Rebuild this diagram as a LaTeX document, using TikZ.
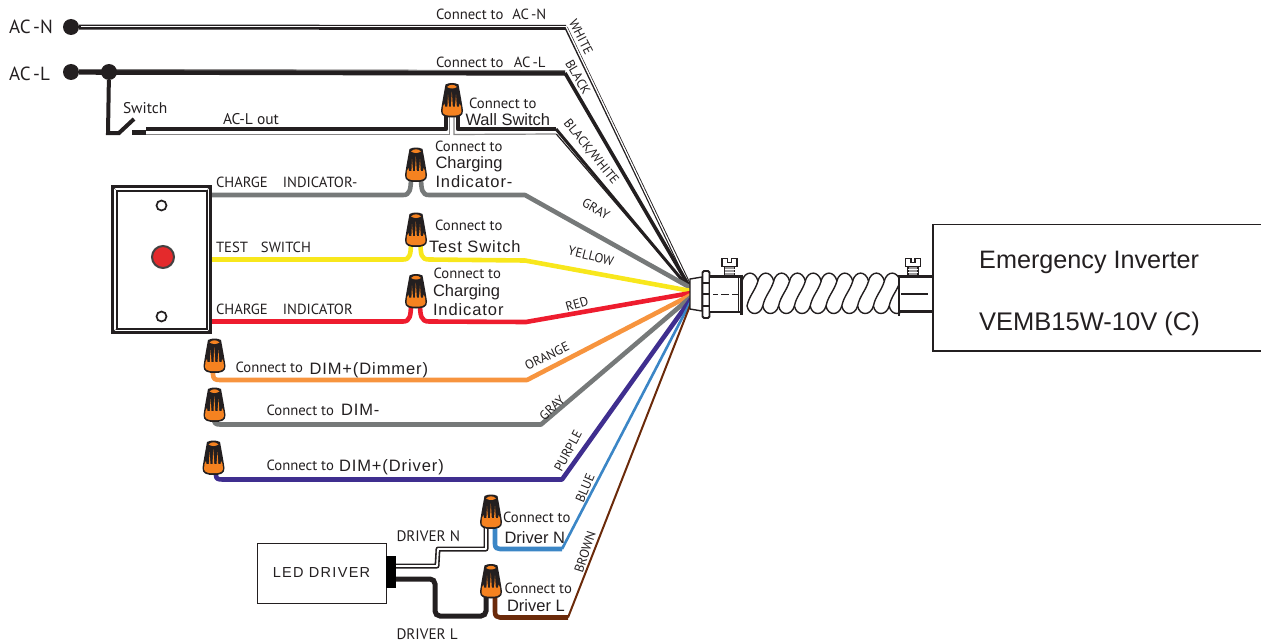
\documentclass[tikz,border=0pt]{standalone}
\usepackage{fontspec}
\setmainfont{PT Sans}
\newfontfamily\arialf{Liberation Sans}
\newfontfamily\arialw[LetterSpace=5.5]{Liberation Sans}
\newfontfamily\arialled[LetterSpace=9]{Liberation Sans}
\usetikzlibrary{calc}
\definecolor{ink}{HTML}{231F20}
\definecolor{nutor}{HTML}{F58220}
\definecolor{wgray}{HTML}{767979}
\definecolor{wyellow}{HTML}{F8E71C}
\definecolor{wred}{HTML}{EE1C2E}
\definecolor{lampred}{HTML}{E42A2C}
\definecolor{worange}{HTML}{F7943E}
\definecolor{wpurple}{HTML}{3F2E8F}
\definecolor{wblue}{HTML}{3B86C6}
\definecolor{wbrown}{HTML}{6B2A0A}
\tikzset{
  x=1pt,y=-1pt,
  wire/.style={line width=4.6pt,line join=round,line cap=butt},
  txt/.style={anchor=base west,inner sep=0pt,outer sep=0pt,text=ink,font=\fontsize{14.7}{14.7}\selectfont},
  big/.style={anchor=base west,inner sep=0pt,outer sep=0pt,text=ink,font=\arialf\fontsize{16.5}{16.5}\selectfont},
  bigw/.style={anchor=base west,inner sep=0pt,outer sep=0pt,text=ink,font=\arialw\fontsize{16.5}{16.5}\selectfont},
  lab/.style={anchor=center,inner sep=0pt,outer sep=0pt,text=ink,font=\fontsize{13}{13}\selectfont},
  dot/.style={circle,fill=ink,inner sep=0pt,minimum size=16pt},
  nut/.pic={
    \path[fill=ink] (-6.5,-33) .. controls (-3,-35) and (3,-35) .. (6.5,-33)
      .. controls (8,-25) and (10,-14) .. (11,-7)
      .. controls (11.5,-1) and (6,0) .. (0,0)
      .. controls (-6,0) and (-11.5,-1) .. (-11,-7)
      .. controls (-10,-14) and (-8,-25) .. (-6.5,-33) -- cycle;
    % orange base with fine tapered ribs
    \path[fill=nutor] (-9,-11) -- (-7.6,-14) -- (-7,-11) -- (-4.6,-11) -- (-4,-23) -- (-3,-11) -- (-1,-11) -- (-0.2,-26) -- (0.8,-11) -- (3,-11) -- (4,-23) -- (4.8,-11) -- (7,-11) -- (7.6,-14) -- (9,-11) -- (9.5,-6)
      .. controls (9,-2) and (4,-1.8) .. (0,-1.8)
      .. controls (-4,-1.8) and (-9,-2) .. (-9.5,-6) -- cycle;
    \path[fill=nutor] (-5,-30.5) .. controls (-2,-33.5) and (2,-33.5) .. (5,-30.5) .. controls (2,-28.5) and (-2,-28.5) .. (-5,-30.5) -- cycle;
  },
  screw/.pic={
    \path[draw=ink,line width=1.1pt,fill=ink!45] (-5,-10) rectangle (5,0);
    \draw[white,line width=.8pt] (-5,-6.5) -- (5,-6.5) (-5,-3.5) -- (5,-3.5);
    \path[draw=ink,line width=1.1pt,fill=white] (-7.5,-17.5) -- (-2,-17.5) -- (-2,-13.5) -- (2,-13.5) -- (2,-17.5) -- (7.5,-17.5) -- (7.5,-9.5) -- (-7.5,-9.5) -- cycle;
  }
}
\begin{document}
\begin{tikzpicture}
\useasboundingbox (0,0) rectangle (1261,642);
% hub and named route points
\coordinate (hN) at (689,284);
\coordinate (hL) at (689,286);
\coordinate (hBW) at (688,287);
\coordinate (hG) at (691,288);
\coordinate (hY) at (691,291);
\coordinate (hR) at (691,293);
\coordinate (hO) at (691,295);
\coordinate (hG2) at (691,297);
\coordinate (hP) at (691,299);
\coordinate (hB) at (691,301);
\coordinate (hBr) at (691,303);
% AC-N
\node[dot] (acn) at (71,27) {};
\coordinate (acnc) at (566,27.5);
\draw[ink,line width=5pt] (acn) -- (acnc);
\draw[white,line width=1.1pt] ($(acn)+(10,-0.5)$) -- ($(acnc)+(0,-1)$);
\draw[ink,line width=3.4pt] (acnc) -- (hN);
\draw[white,line width=1.3pt] ($(acnc)+(.3,-.5)$) -- (hN);
% AC-L
\node[dot] (acl) at (71,72) {};
\node[dot] (acj) at (109,72) {};
\coordinate (aclc) at (565,73);
\draw[ink,line width=5.4pt] (acl) -- (aclc);
\draw[ink!60,line width=1pt] (acj.east) ++(0,-2.4) -- ($(aclc)+(0,-2.4)$);
\draw[ink,line width=3.6pt] (aclc) -- (hL);
% switch
\coordinate (swa) at (108,133);
\coordinate (swb) at (119,133);
\coordinate (swc) at (134,119);
\coordinate (swd) at (132,132.5);
\coordinate (swe) at (146,132.5);
\draw[ink,line width=4pt,line join=miter] (acj) -- (swa) -- (swb) -- (swc);
\draw[ink,line width=5pt] (swd) -- (swe);
% AC-L out black/white
\coordinate (bwc) at (556,129);
\coordinate (bwd) at (556,134);
\draw[ink,line width=4.4pt,line join=round] (swe) ++(0,-3.5) -- (446,129) -- (446,113);
\draw[ink,line width=4.4pt,line join=round] (458,113) -- (458,129) -- (bwc);
\draw[ink!55,line width=1.2pt] (swe) ++(0,2) -- (449.5,134.5) -- (449.5,115);
\draw[ink!55,line width=1.2pt] (454,115) -- (454,134.5) -- (bwd);
\draw[ink,line width=3pt] (bwc) -- (hBW);
\draw[ink,line width=1.2pt] ($(bwd)+(.3,0)$) -- (hBW);
% gray
\coordinate (gc) at (525,195);
\draw[wgray,wire] (212,195) -- (403,195) .. controls (410,195) and (411,190) .. (411,175);
\draw[wgray,wire] (421,175) .. controls (421,190) and (422,195) .. (429,195) -- (gc) -- (hG);
% yellow
\coordinate (yc) at (525,260.5);
\draw[wyellow,wire] (212,259.5) -- (403,259.5) .. controls (410,259.5) and (411,255) .. (411,240);
\draw[wyellow,wire] (420.5,240) .. controls (420.5,255) and (421,259.5) .. (429,259.5) -- (yc) -- (hY);
% red
\coordinate (rc) at (526,322);
\draw[wred,wire] (212,321.5) -- (403,321.5) .. controls (410,321.5) and (411,316) .. (411,302);
\draw[wred,wire] (420,302) .. controls (420,316) and (421,321.5) .. (429,321.5) -- (rc) -- (hR);
% orange
\coordinate (oc) at (527,380);
\draw[worange,wire] (213,368) -- (213,374) .. controls (213,379) and (215,380) .. (220,380) -- (oc) -- (hO);
% gray 2
\coordinate (g2c) at (541,424.5);
\draw[wgray,wire] (214,418) .. controls (214,423) and (215,424.5) .. (220,424.5) -- (g2c) -- (hG2);
% purple
\coordinate (pc) at (562,479.5);
\draw[wpurple,wire] (216,470) -- (216,475) .. controls (216,479) and (218,479.5) .. (223,479.5) -- (pc) -- (hP);
% blue
\coordinate (bc) at (562,549);
\draw[wblue,wire] (495,525) -- (495,544) .. controls (495,548) and (497,549) .. (500,549) -- (bc);
\draw[wblue,line width=2.6pt] (bc) -- (hB);
% brown
\coordinate (brc) at (568,617.5);
\draw[wbrown,wire] (495,594) -- (495,612) .. controls (495,616) and (497,617.5) .. (500,617.5) -- (brc);
\draw[wbrown,line width=2pt] (brc) -- (hBr);
% led driver
\node[draw=ink,line width=1pt,fill=white,minimum width=129pt,minimum height=60pt,inner sep=0pt,font=\arialled\fontsize{14.5}{14.5}\selectfont,text=ink] (drv) at (321.5,573) {LED DRIVER};
\node[fill=black,minimum width=10pt,minimum height=32pt,inner sep=0pt] (plug) at (391,572) {};
\coordinate (dn1) at (396,566);
\coordinate (dn2) at (437,566);
\coordinate (dn3) at (438,549);
\coordinate (dn4) at (486,549);
\coordinate (dn5) at (486,525);
\draw[ink,line width=5pt,line join=round] (dn1) -- (dn2) -- (dn3) -- (dn4) -- (dn5);
\draw[white,line width=1.8pt,line join=round] (dn1) -- (dn2) -- (dn3) -- (dn4) -- (dn5);
\coordinate (dl1) at (396,579);
\coordinate (dl2) at (435,579);
\coordinate (dl3) at (435,616);
\coordinate (dl4) at (486,616);
\coordinate (dl5) at (486,594);
\draw[ink,line width=5pt,rounded corners=5pt] (dl1) -- (dl2) -- (dl3) -- (dl4) -- (dl5);
% wire nuts
\pic (n1) at (452,117.5) {nut};
\pic (n2) at (416,182) {nut};
\pic (n3) at (416,247) {nut};
\pic (n4) at (416,308.5) {nut};
\pic (n5) at (214.5,373) {nut};
\pic (n6) at (214.5,422) {nut};
\pic (n7) at (213.5,475) {nut};
\pic (n8) at (491,529) {nut};
\pic (n9) at (491,598.5) {nut};
% wall plate
\node[draw=ink,line width=2.4pt,fill=white,minimum width=98pt,minimum height=146pt,inner sep=0pt] (plate) at (161.5,259.5) {};
\node[draw=ink,line width=2pt,minimum width=90pt,minimum height=138pt,inner sep=0pt] (plateb) at (161.5,259.5) {};
\draw[ink,line width=.7pt] (plate.north west) -- (plateb.north west) (plate.north east) -- (plateb.north east) (plate.south west) -- (plateb.south west) (plate.south east) -- (plateb.south east);
\node[draw=ink,line width=1.7pt,circle,minimum size=10pt,inner sep=0pt] (h1) at (161.5,205.5) {};
\node[draw=ink,line width=1.7pt,circle,minimum size=10pt,inner sep=0pt] (h2) at (161.5,316.5) {};
\node[draw=ink!85,fill=lampred,line width=2pt,circle,minimum size=22pt,inner sep=0pt] (lamp) at (163,257) {};
% conduit
\fill[white] (741,276) rectangle (899,312);
\foreach \k in {0,...,9}{
  \pgfmathsetmacro{\vx}{758+\k*15.8}
  % top lobe
  \draw[ink,line width=1.4pt,line join=round]
    ({\vx-16},281) .. controls ({\vx-13},270.5) and ({\vx-3},270.5) .. (\vx,281)
    .. controls ({\vx-3},291) and ({\vx-9},296) .. ({\vx-11},306);
  % bottom lobe
  \draw[ink,line width=1.4pt,line join=round]
    ({\vx-11},306) .. controls ({\vx-9},316) and ({\vx+2},316) .. ({\vx+4.8},306);
}
% left fitting
\draw[ink,line width=1.4pt,fill=white] (690,279) -- (702,277) -- (702,311) -- (690,309) -- cycle;
\draw[ink,line width=1.8pt,fill=white,rounded corners=1.5pt] (702.5,271) rectangle (709.5,318);
\draw[ink,line width=2pt] (703,283) -- (709,283) (703,294) -- (709,294) (703,306) -- (709,306);
\fill[white] (710,277) rectangle (741,312);
\draw[ink,line width=2.6pt] (709,276.5) -- (741,276.5) (709,312) -- (741,312);
\draw[ink,line width=2.6pt] (741.5,274.5) -- (741.5,315);
\draw[ink,line width=.7pt] (738.5,276) -- (738.5,312);
\draw[ink,line width=1.8pt,dash pattern=on 5pt off 3pt on 8pt off 3pt on 7pt] (713,294.5) -- (740,294.5);
\pic at (729.5,276) {screw};
% right fitting
\fill[white] (899,277) rectangle (933,312);
\draw[ink,line width=2.4pt] (899,276.5) -- (933,276.5) (899,311.5) -- (933,311.5);
\draw[ink,line width=2.6pt] (899,275) -- (899,316);
\draw[ink,line width=2pt] (901,294) -- (928,294);
\pic at (913,276) {screw};
% inverter
\coordinate (invtr) at (1261,224.5);
\coordinate (invbr) at (1261,351);
\draw[ink,line width=1.6pt] (invtr) -- (933,224.5) -- (933,351) -- (invbr);
\node[anchor=base west,inner sep=0pt,text=ink,font=\arialf\fontsize{25.2}{25.2}\selectfont] (t1) at (979,268) {Emergency Inverter};
\node[anchor=base west,inner sep=0pt,text=ink,font=\arialf\fontsize{25.5}{25.5}\selectfont] (t2) at (979,330) {VEMB15W-10V (C)};
% left labels
\node[anchor=base west,inner sep=0pt,text=ink,font=\fontsize{19}{19}\selectfont] (l1) at (9,34) {AC\hspace{2.5pt}-N};
\node[anchor=base west,inner sep=0pt,text=ink,font=\fontsize{19}{19}\selectfont] (l2) at (9,80.5) {AC\hspace{2.5pt}-L};
\node[txt,font=\fontsize{15.5}{15.5}\selectfont] (l3) at (123,113) {Switch};
\node[txt,font=\fontsize{15.5}{15.5}\selectfont] (l4) at (223,124) {AC-L out};
\node[txt] (l5) at (216,187) {CHARGE\hspace{15pt}INDICATOR-};
\node[txt] (l6) at (216,252) {TEST\hspace{13pt}SWITCH};
\node[txt] (l7) at (216,314) {CHARGE\hspace{15pt}INDICATOR};
\node[txt] (c1) at (436,20) {Connect to\hspace{9pt}AC\hspace{2pt}-N};
\node[txt] (c2) at (436,67) {Connect to\hspace{10.5pt}AC\hspace{2pt}-L};
\node[txt] (c3) at (469,108) {Connect to};
\node[big] (b3) at (465.5,125) {Wall Switch};
\node[txt] (c4) at (435,151) {Connect to};
\node[big] (b4) at (435.5,168) {Charging};
\node[bigw] (b4b) at (435.5,187) {Indicator-};
\node[txt] (c5) at (435,230) {Connect to};
\node[bigw] (b5) at (429,252) {Test Switch};
\node[txt] (c6) at (433.5,278) {Connect to};
\node[big] (b6) at (433,296) {Charging};
\node[bigw] (b6b) at (433,315) {Indicator};
\node[txt] (c7) at (235.5,372) {Connect to};
\node[bigw] (b7) at (309.5,374) {DIM+(Dimmer)};
\node[txt] (c8) at (266.5,415) {Connect to};
\node[bigw] (b8) at (341,415) {DIM-};
\node[txt] (c9) at (266.5,470) {Connect to};
\node[bigw] (b9) at (339,471) {DIM+(Driver)};
\node[txt] (c10) at (503,522) {Connect to};
\node[big] (b10) at (504.5,543) {Driver N};
\node[txt] (c11) at (504.5,593) {Connect to};
\node[big] (b11) at (507,611) {Driver L};
\node[txt,font=\fontsize{15.2}{15.2}\selectfont] (l8) at (396.5,541) {DRIVER N};
\node[txt,font=\fontsize{15.2}{15.2}\selectfont] (l9) at (396.5,639) {DRIVER L};
% wire colour labels
\node[lab,rotate=-63] (w1) at (581,37) {WHITE};
\node[lab,rotate=-60] (w2) at (578,77) {BLACK};
\node[lab,rotate=-51] (w3) at (591,152) {BLACK/WHITE};
\node[lab,rotate=-30] (w4) at (596,209) {GRAY};
\node[lab,rotate=-14] (w5) at (591,256) {YELLOW};
\node[lab,rotate=16] (w6) at (577,304) {RED};
\node[lab,rotate=26] (w7) at (547,356) {ORANGE};
\node[lab,rotate=44] (w8) at (552,408) {GRAY};
\node[lab,rotate=62] (w9) at (568,451) {PURPLE};
\node[lab,rotate=67] (w10) at (585,488) {BLUE};
\node[lab,rotate=72] (w11) at (585,552) {BROWN};
\end{tikzpicture}
\end{document}
